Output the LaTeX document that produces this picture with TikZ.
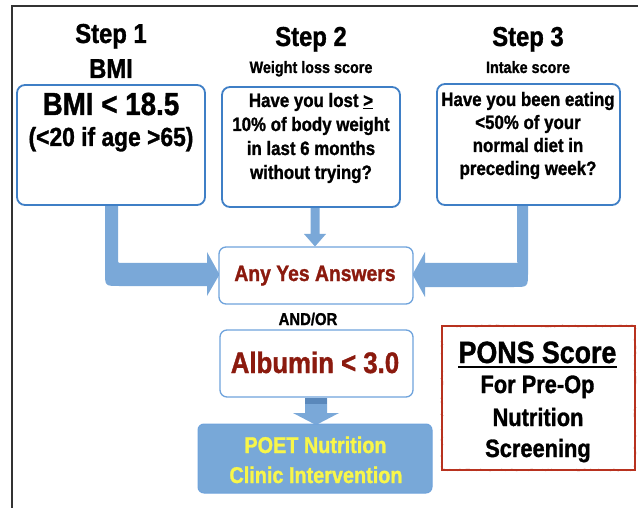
\documentclass[tikz,border=0pt]{standalone}
\usepackage{fontspec}
\setmainfont{Liberation Sans}[Scale=1.14, BoldFeatures={FakeStretch=0.87, FakeBold=1.2}]
\usetikzlibrary{decorations.pathmorphing}
\definecolor{boxblue}{HTML}{3F7FC6}
\definecolor{lightblue}{HTML}{6FA3DC}
\definecolor{arrowblue}{HTML}{7AA8D8}
\definecolor{darkband}{HTML}{5A88BB}
\definecolor{poetfill}{HTML}{78A8D8}
\definecolor{darkred}{HTML}{8B1A0E}
\definecolor{ponsred}{HTML}{B8321F}
\definecolor{poetyellow}{HTML}{F8F64A}
\definecolor{framegray}{HTML}{333333}
\begin{document}
\begin{tikzpicture}[x=1pt,y=-1pt,
  fs/.style={font=\bfseries\fontsize{#1}{#1}\selectfont},
  txt/.style={inner sep=0pt, anchor=base},
  stepbox/.style={draw=boxblue, line width=1.8pt, rounded corners=8pt, fill=white, inner sep=0pt},
  midbox/.style={draw=lightblue, line width=1.3pt, rounded corners=7pt, fill=white, inner sep=0pt},
  poetbox/.style={draw=lightblue, fill=poetfill, line width=1pt, rounded corners=6pt, inner sep=0pt},
  ponsbox/.style={draw=ponsred, line width=2.2pt, inner sep=0pt,
    postaction={draw=ponsred, line width=0.9pt, decorate,
      decoration={random steps, segment length=2pt, amplitude=0.8pt}}},
  arrowshape/.style={fill=arrowblue},
]
\useasboundingbox (0,0) rectangle (638,508);
% frame
\draw[framegray, line width=1.5pt] (638,6) -- (12,6) -- (12,508);

% headings
\node[txt, fs=24] (s1) at (111,43) {Step 1};
\node[txt, fs=24] (s1b) at (111,78) {BMI};
\node[txt, fs=24] (s2) at (311,46) {Step 2};
\node[txt, fs=14.5] (s2b) at (311,73) {Weight loss score};
\node[txt, fs=24] (s3) at (528,46) {Step 3};
\node[txt, fs=14.5] (s3b) at (528,73) {Intake score};

% arrows behind the boxes
\fill[arrowshape] (105,204) -- (105,272) .. controls (105,286) .. (119,286)
  -- (207,286) -- (207,296) -- (219.5,274.5) -- (207,252) -- (207,263)
  -- (122,263) .. controls (118,263) .. (118,259) -- (118,204) -- cycle;
\fill[arrowshape] (528,204) -- (528,272) .. controls (528,287) .. (514,287)
  -- (425,287) -- (425,297) -- (412.5,274.5) -- (425,252) -- (425,263)
  -- (521,263) .. controls (517,263) .. (517,259) -- (517,204) -- cycle;
\fill[arrowshape] (310.5,206) -- (310.5,234) -- (304,234) -- (315,246.5)
  -- (326,234) -- (319.5,234) -- (319.5,206) -- cycle;
\fill[arrowshape] (305,398) -- (305,413) -- (293,413) -- (316,425)
  -- (339,413) -- (327,413) -- (327,398) -- cycle;
\fill[darkband] (305,398) rectangle (327,404);

% boxes
\node[stepbox, minimum width=188pt, minimum height=120pt] (b1) at (111,145) {};
\node[stepbox, minimum width=178pt, minimum height=120pt] (b2) at (311,147) {};
\node[stepbox, minimum width=183pt, minimum height=121pt] (b3) at (528.5,144.5) {};
\node[midbox, minimum width=194pt, minimum height=57pt] (yes) at (316,275.5) {};
\node[midbox, minimum width=193pt, minimum height=67pt] (alb) at (316.5,363.5) {};
\node[poetbox, minimum width=234pt, minimum height=69pt] (poet) at (315,458.5) {};
\node[ponsbox, minimum width=193pt, minimum height=144pt] (pons) at (538.5,398) {};

% box 1 text
\node[txt, fs=28] (t11) at (111,115) {BMI < 18.5};
\node[txt, fs=23] (t12) at (111,146) {(<20 if age >65)};
% box 2 text
\node[txt, fs=17] (t21) at (311,107) {Have you lost \underline{>}};
\node[txt, fs=17] (t22) at (311,131) {10\% of body weight};
\node[txt, fs=17] (t23) at (311,155) {in last 6 months};
\node[txt, fs=17] (t24) at (311,179) {without trying?};
% box 3 text
\node[txt, fs=17] (t31) at (528,106) {Have you been eating};
\node[txt, fs=17] (t32) at (528,129) {<50\% of your};
\node[txt, fs=17] (t33) at (528,152) {normal diet in};
\node[txt, fs=17] (t34) at (528,175) {preceding week?};

% middle column
\node[txt, fs=19.5, text=darkred] (tyes) at (315,281) {Any Yes Answers};
\node[txt, fs=15] (andor) at (308,325) {AND/OR};
\node[txt, fs=26, text=darkred] (talb) at (315,373) {Albumin < 3.0};
\node[txt, fs=20, text=poetyellow] (tp1) at (315.5,453) {POET Nutrition};
\node[txt, fs=20, text=poetyellow] (tp2) at (316,483) {Clinic Intervention};

% PONS text
\node[txt, fs=27] (tpons) at (537.5,363) {PONS Score};
\draw[line width=1.8pt] ([yshift=-4pt]tpons.base west) -- ([yshift=-4pt]tpons.base east);
\node[txt, fs=22] (tpo2) at (537.5,393) {For Pre-Op};
\node[txt, fs=22] (tpo3) at (538,426) {Nutrition};
\node[txt, fs=22] (tpo4) at (538,457) {Screening};
\end{tikzpicture}
\end{document}
